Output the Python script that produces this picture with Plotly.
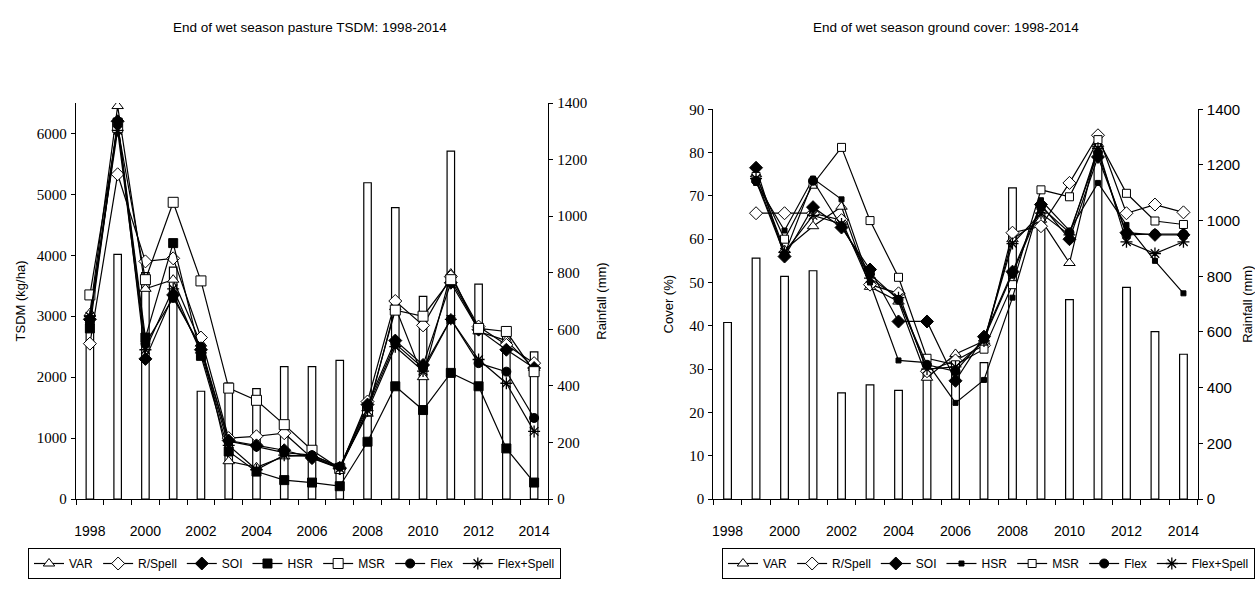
import plotly.graph_objects as go

years = list(range(1998, 2015))
rainfall = [634, 865, 800, 820, 381, 410, 390, 468, 468, 490, 1118, 1030, 716, 1230, 760, 601, 520]

series_names = ["VAR", "R/Spell", "SOI", "HSR", "MSR", "Flex", "Flex+Spell"]

# TSDM (kg/ha)
tsdm_var = [3050, 6450, 3450, 3600, 2550, 620, 520, 700, 720, 520, 1400, 3150, 2000, 3700, 2750, 2600, 2150]
tsdm_rspell = [2550, 5330, 3900, 3950, 2650, 1000, 1030, 1080, 670, 500, 1600, 3250, 2850, 3650, 2830, 2530, 2230]
tsdm_soi = [2950, 6200, 2300, 3350, 2450, 960, 880, 800, 680, 510, 1550, 2600, 2200, 3550, 2780, 2450, 2150]
tsdm_hsr = [2800, 6180, 2650, 4200, 2350, 780, 450, 310, 270, 210, 940, 1850, 1460, 2070, 1850, 830, 270]
tsdm_msr = [3350, 6100, 3600, 4870, 3580, 1820, 1620, 1220, 800, 500, 1450, 3100, 3000, 3600, 2800, 2750, 2090]
tsdm_flex = [2900, 6150, 2550, 3300, 2500, 950, 860, 760, 720, 530, 1500, 2550, 2150, 2950, 2230, 2090, 1330]
tsdm_flexspell = [3000, 6050, 2450, 3450, 2400, 880, 480, 720, 700, 500, 1450, 2500, 2100, 2950, 2290, 1900, 1110]

# Ground cover (%)
cov_var = [None, 75, 57.5, 63, 67.5, 49, 45.6, 28, 33.5, 36.5, 60, 64.5, 54.5, 82, None, None, None]
cov_rspell = [None, 66, 66, 66, 64.4, 49.5, 47.5, 29.5, 32, 35.5, 61.5, 63, 73, 84, 66, 68, 66.2]
cov_soi = [None, 76.5, 56, 67.4, 62.7, 53, 41, 41, 27.3, 37.5, 52.5, 68, 60, 79, 61.5, 61, 61]
cov_hsr = [None, 73, 62, 74, 69.2, 50, 32, 31.5, 22.2, 27.5, 46.5, 69, 62, 73, 63.3, 55, 47.5]
cov_msr = [None, 74.5, 60, 72.7, 81.2, 64.3, 51.2, 32.5, 31, 34.6, 49.5, 71.4, 69.8, 83, 70.6, 64.2, 63.4]
cov_flex = [None, 73.5, 56.5, 73.5, 63, 52, 46, 31, 29.5, 37, 52, 67.5, 61.5, 80, 61, 61.2, 61.2]
cov_flexspell = [None, 74, 57, 65.5, 63.5, 51, 46.5, 30, 30.5, 36.5, 59, 66, 61, 81, 59.4, 56.7, 59.4]

tick_years = list(range(1998, 2015, 2))

NARROW = "Liberation Sans Narrow, Arial Narrow, Liberation Sans, Arial, sans-serif"
SANS = "Liberation Sans, Arial, sans-serif"
SERIF = "Liberation Serif, Times New Roman, serif"

left_styles = [
    dict(symbol="triangle-up", size=10, color="white", line=dict(color="black", width=1)),
    dict(symbol="diamond", size=10, color="white", line=dict(color="black", width=1)),
    dict(symbol="diamond", size=10, color="black", line=dict(color="black", width=1)),
    dict(symbol="square", size=9, color="black", line=dict(color="black", width=1)),
    dict(symbol="square", size=10, color="white", line=dict(color="black", width=1)),
    dict(symbol="circle", size=9, color="black", line=dict(color="black", width=1)),
    dict(symbol="asterisk-open", size=10, color="black", line=dict(color="black", width=1.3)),
]
right_styles = [
    dict(symbol="triangle-up", size=10, color="white", line=dict(color="black", width=1)),
    dict(symbol="diamond", size=10, color="white", line=dict(color="black", width=1)),
    dict(symbol="diamond", size=10, color="black", line=dict(color="black", width=1)),
    dict(symbol="square", size=5, color="black", line=dict(color="black", width=1)),
    dict(symbol="square", size=8, color="white", line=dict(color="black", width=1)),
    dict(symbol="circle", size=9, color="black", line=dict(color="black", width=1)),
    dict(symbol="asterisk-open", size=10, color="black", line=dict(color="black", width=1.3)),
]

fig = go.Figure()

# Rainfall bars (base axes so they sit behind the lines)
fig.add_trace(go.Bar(x=years, y=rainfall, xaxis="x", yaxis="y", width=0.27,
                     marker=dict(color="white", line=dict(color="black", width=1.2)),
                     showlegend=False))
fig.add_trace(go.Bar(x=years, y=rainfall, xaxis="x2", yaxis="y3", width=0.27,
                     marker=dict(color="white", line=dict(color="black", width=1.2)),
                     showlegend=False))

left_data = [tsdm_var, tsdm_rspell, tsdm_soi, tsdm_hsr, tsdm_msr, tsdm_flex, tsdm_flexspell]
right_data = [cov_var, cov_rspell, cov_soi, cov_hsr, cov_msr, cov_flex, cov_flexspell]

for name, vals, st in zip(series_names, left_data, left_styles):
    fig.add_trace(go.Scatter(x=years, y=vals, name=name, mode="lines+markers",
                             xaxis="x", yaxis="y2", legend="legend",
                             line=dict(color="black", width=1.2), marker=st))
for name, vals, st in zip(series_names, right_data, right_styles):
    fig.add_trace(go.Scatter(x=years, y=vals, name=name, mode="lines+markers",
                             xaxis="x2", yaxis="y4", legend="legend2",
                             line=dict(color="black", width=1.2), marker=st))

W, H = 1255, 608
lx0, lx1 = 76 / W, 548 / W
rx0, rx1 = 713.3 / W, 1197.7 / W
yb = (H - 499) / H
ylt = (H - 103) / H
yrt = (H - 109.3) / H

xcommon = dict(range=[1997.5, 2014.5], tickmode="array", tickvals=tick_years,
               ticktext=[str(y) for y in tick_years], ticks="", showline=True,
               linecolor="black", linewidth=1.3, showgrid=False, zeroline=False,
               automargin=False,
               tickfont=dict(family=NARROW, size=14, color="black"),
               ticklabelstandoff=19,
               minor=dict(tickmode="linear", tick0=1997.5, dtick=1, ticks="outside",
                          ticklen=5, tickcolor="black", tickwidth=1.2, showgrid=False))

ycommon = dict(showline=True, linecolor="black", linewidth=1.3, showgrid=False,
               zeroline=False, ticks="outside", ticklen=4, tickcolor="black", tickwidth=1.2,
               ticklabelstandoff=1, automargin=False)

fig.update_layout(
    width=W, height=H, margin=dict(l=0, r=0, t=0, b=0, autoexpand=False),
    paper_bgcolor="white", plot_bgcolor="rgba(0,0,0,0)",
    barmode="overlay",
    xaxis=dict(domain=[lx0, lx1], anchor="y", **xcommon),
    yaxis=dict(domain=[yb, ylt], anchor="x", side="right", range=[0, 1400], dtick=200,
               tickfont=dict(family=SERIF, size=15, color="black"),
               title=dict(text="Rainfall (mm)", standoff=10,
                          font=dict(family=SANS, size=13, color="black")),
               **ycommon),
    yaxis2=dict(overlaying="y", anchor="x", side="left", range=[0, 6500], dtick=1000,
                tickvals=[0, 1000, 2000, 3000, 4000, 5000, 6000],
                tickfont=dict(family=SERIF, size=15, color="black"),
                title=dict(text="TSDM (kg/ha)", standoff=8,
                           font=dict(family=SANS, size=13, color="black")),
                **ycommon),
    xaxis2=dict(domain=[rx0, rx1], anchor="y3", **xcommon),
    yaxis3=dict(domain=[yb, yrt], anchor="x2", side="right", range=[0, 1400], dtick=200,
                tickfont=dict(family=NARROW, size=15, color="black"),
                title=dict(text="Rainfall (mm)", standoff=10,
                           font=dict(family=SANS, size=13, color="black")),
                **ycommon),
    yaxis4=dict(overlaying="y3", anchor="x2", side="left", range=[0, 90], dtick=10,
                tickfont=dict(family=SERIF, size=15, color="black"),
                title=dict(text="Cover (%)", standoff=12,
                           font=dict(family=SANS, size=13, color="black")),
                **ycommon),
    legend=dict(orientation="h", x=28 / W, xanchor="left", y=1 - 548 / H, yanchor="top",
                bordercolor="black", borderwidth=1, bgcolor="white",
                font=dict(family=NARROW, size=12, color="black"),
                itemwidth=30, tracegroupgap=0),
    legend2=dict(orientation="h", x=722 / W, xanchor="left", y=1 - 548 / H, yanchor="top",
                 bordercolor="black", borderwidth=1, bgcolor="white",
                 font=dict(family=NARROW, size=12, color="black"),
                 itemwidth=30, tracegroupgap=0),
    annotations=[
        dict(text="End of wet season pasture TSDM: 1998-2014", x=310 / W, y=1 - 28 / H,
             xref="paper", yref="paper", showarrow=False, xanchor="center", yanchor="middle",
             font=dict(family=SANS, size=13.5, color="black")),
        dict(text="End of wet season ground cover: 1998-2014", x=946 / W, y=1 - 28 / H,
             xref="paper", yref="paper", showarrow=False, xanchor="center", yanchor="middle",
             font=dict(family=SANS, size=13.5, color="black")),
    ],
)

fig.write_html("out.html")
